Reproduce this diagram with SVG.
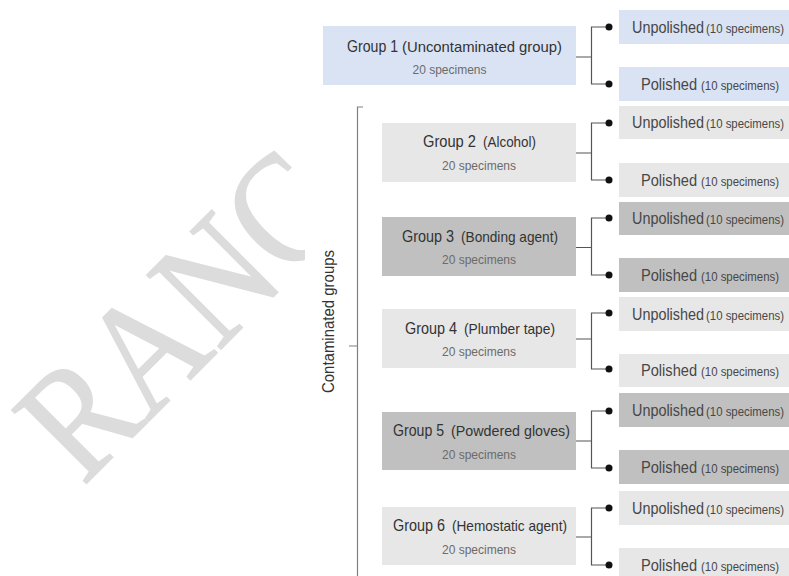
<svg xmlns="http://www.w3.org/2000/svg" width="789" height="576" viewBox="0 0 789 576">
<defs>
<style>
.bg{fill:#ffffff}
.blue{fill:#dae3f3}
.light{fill:#e7e7e7}
.dark{fill:#c0c0c0}
.t{font-family:"Liberation Sans",Arial,sans-serif;fill:#333333}
.g{font-size:16px}
.p{font-size:14.5px}
.s{font-family:"Liberation Sans",Arial,sans-serif;font-size:13px;fill:#6b6b6b;text-anchor:middle}
.r{font-family:"Liberation Sans",Arial,sans-serif;fill:#474747}
.rb{font-size:16px}
.rs{font-size:12.4px}
.conn{fill:none;stroke:#555555;stroke-width:1.2}
.br{fill:none;stroke:#808080;stroke-width:1.2}
.dot{fill:#111111}
.wm{font-family:"Liberation Serif","Times New Roman",serif;font-size:160px;fill:#dcdcdc;stroke:#dcdcdc;stroke-width:1.5}
</style>
<clipPath id="wmclip"><rect x="0" y="0" width="305" height="576"/></clipPath>
</defs>
<rect class="bg" x="0" y="0" width="789" height="576"/>
<g id="watermark" clip-path="url(#wmclip)">
<text class="wm" transform="translate(83,487) rotate(-45)" textLength="382" lengthAdjust="spacingAndGlyphs">RANC</text>
</g>
<g id="connectors">
<path class="br" d="M363,107 H357.5 V576 M357.5,346 H349"/>
<path class="conn" d="M576,57 H591.5 M609,27 H591.5 V84 H609"/>
<path class="conn" d="M576,153 H591.5 M609,123 H591.5 V180 H609"/>
<path class="conn" d="M576,247.5 H591.5 M609,218 H591.5 V275 H609"/>
<path class="conn" d="M576,339 H591.5 M609,313 H591.5 V369 H609"/>
<path class="conn" d="M576,441 H591.5 M609,411 H591.5 V468 H609"/>
<path class="conn" d="M576,537 H591.5 M609,508 H591.5 V565 H609"/>
<circle class="dot" cx="609" cy="27" r="3.5"/><circle class="dot" cx="609" cy="84" r="3.5"/>
<circle class="dot" cx="609" cy="123" r="3.5"/><circle class="dot" cx="609" cy="180" r="3.5"/>
<circle class="dot" cx="609" cy="218" r="3.5"/><circle class="dot" cx="609" cy="275" r="3.5"/>
<circle class="dot" cx="609" cy="313" r="3.5"/><circle class="dot" cx="609" cy="369" r="3.5"/>
<circle class="dot" cx="609" cy="411" r="3.5"/><circle class="dot" cx="609" cy="468" r="3.5"/>
<circle class="dot" cx="609" cy="508" r="3.5"/><circle class="dot" cx="609" cy="565" r="3.5"/>
</g>
<text id="contaminated-label" class="t" font-size="16" text-anchor="middle" transform="translate(334,321.5) rotate(-90)" textLength="143" lengthAdjust="spacingAndGlyphs">Contaminated groups</text>
<g id="group1">
<rect class="blue" x="323" y="26" width="253" height="59"/>
<text class="t g" x="347" y="51.5" textLength="51" lengthAdjust="spacingAndGlyphs">Group 1</text>
<text class="t p" x="402" y="51.5" textLength="160" lengthAdjust="spacingAndGlyphs">(Uncontaminated group)</text>
<text class="s" x="449.5" y="73.5" textLength="74" lengthAdjust="spacingAndGlyphs">20 specimens</text>
</g>
<g id="group2">
<rect class="light" x="382" y="123" width="194" height="59"/>
<text class="t g" x="423" y="147" textLength="53" lengthAdjust="spacingAndGlyphs">Group 2</text>
<text class="t p" x="483" y="147" textLength="53" lengthAdjust="spacingAndGlyphs">(Alcohol)</text>
<text class="s" x="479" y="169.5" textLength="74" lengthAdjust="spacingAndGlyphs">20 specimens</text>
</g>
<g id="group3">
<rect class="dark" x="382" y="217" width="194" height="59"/>
<text class="t g" x="402" y="241.5" textLength="52" lengthAdjust="spacingAndGlyphs">Group 3</text>
<text class="t p" x="461" y="241.5" textLength="97" lengthAdjust="spacingAndGlyphs">(Bonding agent)</text>
<text class="s" x="479" y="264" textLength="74" lengthAdjust="spacingAndGlyphs">20 specimens</text>
</g>
<g id="group4">
<rect class="light" x="382" y="309" width="194" height="59"/>
<text class="t g" x="405" y="333.5" textLength="52" lengthAdjust="spacingAndGlyphs">Group 4</text>
<text class="t p" x="464" y="333.5" textLength="91" lengthAdjust="spacingAndGlyphs">(Plumber tape)</text>
<text class="s" x="479" y="356" textLength="74" lengthAdjust="spacingAndGlyphs">20 specimens</text>
</g>
<g id="group5">
<rect class="dark" x="382" y="412" width="194" height="58"/>
<text class="t g" x="393" y="436" textLength="51" lengthAdjust="spacingAndGlyphs">Group 5</text>
<text class="t p" x="451" y="436" textLength="119" lengthAdjust="spacingAndGlyphs">(Powdered gloves)</text>
<text class="s" x="479" y="458.5" textLength="74" lengthAdjust="spacingAndGlyphs">20 specimens</text>
</g>
<g id="group6">
<rect class="light" x="382" y="507" width="194" height="58"/>
<text class="t g" x="393" y="531" textLength="52" lengthAdjust="spacingAndGlyphs">Group 6</text>
<text class="t p" x="452" y="531" textLength="115" lengthAdjust="spacingAndGlyphs">(Hemostatic agent)</text>
<text class="s" x="479" y="553.5" textLength="74" lengthAdjust="spacingAndGlyphs">20 specimens</text>
</g>
<g id="g1-unpolished"><rect class="blue" x="619" y="10" width="170" height="34"/><text class="r rb" x="632" y="32.5" textLength="72" lengthAdjust="spacingAndGlyphs">Unpolished</text><text class="r rs" x="706" y="32.5" textLength="78" lengthAdjust="spacingAndGlyphs">(10 specimens)</text></g>
<g id="g1-polished"><rect class="blue" x="619" y="67" width="170" height="34"/><text class="r rb" x="641" y="89.5" textLength="56" lengthAdjust="spacingAndGlyphs">Polished</text><text class="r rs" x="701" y="89.5" textLength="78" lengthAdjust="spacingAndGlyphs">(10 specimens)</text></g>
<g id="g2-unpolished"><rect class="light" x="619" y="106" width="170" height="33"/><text class="r rb" x="632" y="128" textLength="72" lengthAdjust="spacingAndGlyphs">Unpolished</text><text class="r rs" x="706" y="128" textLength="78" lengthAdjust="spacingAndGlyphs">(10 specimens)</text></g>
<g id="g2-polished"><rect class="light" x="619" y="163" width="170" height="34"/><text class="r rb" x="641" y="185.5" textLength="56" lengthAdjust="spacingAndGlyphs">Polished</text><text class="r rs" x="701" y="185.5" textLength="78" lengthAdjust="spacingAndGlyphs">(10 specimens)</text></g>
<g id="g3-unpolished"><rect class="dark" x="619" y="202" width="170" height="33"/><text class="r rb" x="632" y="224" textLength="72" lengthAdjust="spacingAndGlyphs">Unpolished</text><text class="r rs" x="706" y="224" textLength="78" lengthAdjust="spacingAndGlyphs">(10 specimens)</text></g>
<g id="g3-polished"><rect class="dark" x="619" y="258" width="170" height="34"/><text class="r rb" x="641" y="280.5" textLength="56" lengthAdjust="spacingAndGlyphs">Polished</text><text class="r rs" x="701" y="280.5" textLength="78" lengthAdjust="spacingAndGlyphs">(10 specimens)</text></g>
<g id="g4-unpolished"><rect class="light" x="619" y="297" width="170" height="34"/><text class="r rb" x="632" y="319.5" textLength="72" lengthAdjust="spacingAndGlyphs">Unpolished</text><text class="r rs" x="706" y="319.5" textLength="78" lengthAdjust="spacingAndGlyphs">(10 specimens)</text></g>
<g id="g4-polished"><rect class="light" x="619" y="354" width="170" height="33"/><text class="r rb" x="641" y="376" textLength="56" lengthAdjust="spacingAndGlyphs">Polished</text><text class="r rs" x="701" y="376" textLength="78" lengthAdjust="spacingAndGlyphs">(10 specimens)</text></g>
<g id="g5-unpolished"><rect class="dark" x="619" y="393" width="170" height="34"/><text class="r rb" x="632" y="415.5" textLength="72" lengthAdjust="spacingAndGlyphs">Unpolished</text><text class="r rs" x="706" y="415.5" textLength="78" lengthAdjust="spacingAndGlyphs">(10 specimens)</text></g>
<g id="g5-polished"><rect class="dark" x="619" y="450" width="170" height="34"/><text class="r rb" x="641" y="472.5" textLength="56" lengthAdjust="spacingAndGlyphs">Polished</text><text class="r rs" x="701" y="472.5" textLength="78" lengthAdjust="spacingAndGlyphs">(10 specimens)</text></g>
<g id="g6-unpolished"><rect class="light" x="619" y="491" width="170" height="34"/><text class="r rb" x="632" y="513.5" textLength="72" lengthAdjust="spacingAndGlyphs">Unpolished</text><text class="r rs" x="706" y="513.5" textLength="78" lengthAdjust="spacingAndGlyphs">(10 specimens)</text></g>
<g id="g6-polished"><rect class="light" x="619" y="548" width="170" height="28"/><text class="r rb" x="641" y="570.5" textLength="56" lengthAdjust="spacingAndGlyphs">Polished</text><text class="r rs" x="701" y="570.5" textLength="78" lengthAdjust="spacingAndGlyphs">(10 specimens)</text></g>
</svg>
